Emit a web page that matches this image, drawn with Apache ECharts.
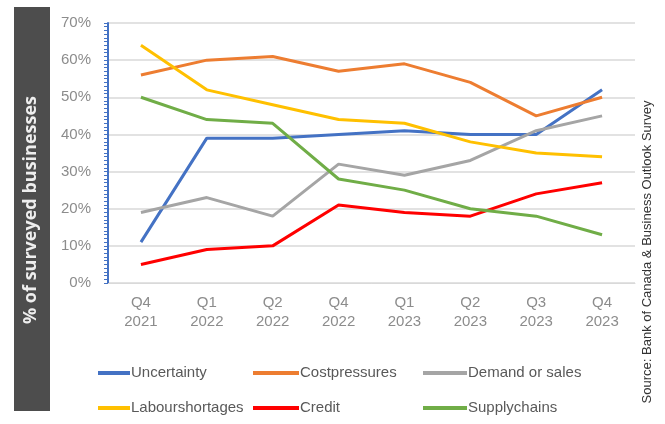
<!DOCTYPE html>
<html>
<head>
<meta charset="utf-8">
<script src="https://cdn.jsdelivr.net/npm/echarts@6/dist/echarts.min.js"></script>
<style>
  html, body { margin: 0; padding: 0; background: #fff; }
  #main { width: 665px; height: 424px; }
</style>
</head>
<body>
<div id="main"></div>
<script>
// 数据
var quarters = ['Q4\n2021', 'Q1\n2022', 'Q2\n2022', 'Q4\n2022', 'Q1\n2023', 'Q2\n2023', 'Q3\n2023', 'Q4\n2023'];
var uncertainty = [11, 39, 39, 40, 41, 40, 40, 52];
var costpressures = [56, 60, 61, 57, 59, 54, 45, 50];
var demandSales = [19, 23, 18, 32, 29, 33, 41, 45];
var labourshortages = [64, 52, 48, 44, 43, 38, 35, 34];
var credit = [5, 9, 10, 21, 19, 18, 24, 27];
var supplychains = [50, 44, 43, 28, 25, 20, 18, 13];
var yTicks = [0, 10, 20, 30, 40, 50, 60, 70];

var myChart = echarts.init(document.getElementById('main'));

function line(name, data, color) {
    return {
        name: name,
        type: 'line',
        data: data,
        symbol: 'none',
        lineStyle: { width: 3, color: color },
        itemStyle: { color: color }
    };
}

function legendCol(left, names, w) {
    return {
        orient: 'vertical',
        left: left,
        top: 364,
        padding: 0,
        itemGap: 17,
        icon: 'rect',
        itemWidth: w,
        itemHeight: 4,
        data: names,
        textStyle: { fontSize: 15, color: '#595959', lineHeight: 18, padding: [0, 0, 0, -4] }
    };
}

var option = {
    animation: false,
    grid: { left: 108, right: 30, top: 23, bottom: 141 },
    legend: [
        legendCol(98, ['Uncertainty', 'Labourshortages'], 32),
        legendCol(253, ['Costpressures', 'Credit'], 46),
        legendCol(423, ['Demand or sales', 'Supplychains'], 44)
    ],
    xAxis: {
        type: 'category',
        data: quarters,
        axisLine: { lineStyle: { color: '#d9d9d9', width: 1 } },
        axisTick: { show: false },
        axisLabel: { fontSize: 15, color: '#8c8c8c', lineHeight: 19, margin: 10 }
    },
    yAxis: {
        type: 'value',
        min: yTicks[0],
        max: yTicks[yTicks.length - 1],
        interval: 10,
        axisLine: { show: true, lineStyle: { color: '#4472c4', width: 2 } },
        axisTick: { show: true, length: 4, lineStyle: { color: '#4472c4' } },
        minorTick: { show: true, splitNumber: 10, length: 4, lineStyle: { color: '#4472c4' } },
        splitLine: { lineStyle: { color: '#d9d9d9', width: 1.5 } },
        axisLabel: { fontSize: 15, color: '#8c8c8c', margin: 17, formatter: '{value}%' }
    },
    graphic: [
        {
            type: 'rect',
            shape: { x: 14, y: 7, width: 36, height: 404 },
            style: { fill: '#4d4d4d' }
        },
        {
            type: 'text',
            x: 31,
            y: 210,
            rotation: Math.PI / 2,
            style: {
                text: '% of surveyed businesses',
                fill: '#eeeeee',
                font: 'bold 18px "Open Sans", sans-serif',
                align: 'center',
                verticalAlign: 'middle'
            }
        },
        {
            type: 'text',
            x: 647,
            y: 252,
            rotation: Math.PI / 2,
            style: {
                text: 'Source: Bank of Canada & Business Outlook Survey',
                fill: '#333333',
                font: '13px "Liberation Sans", sans-serif',
                align: 'center',
                verticalAlign: 'middle'
            }
        }
    ],
    series: [
        line('Uncertainty', uncertainty, '#4472c4'),
        line('Costpressures', costpressures, '#ed7d31'),
        line('Demand or sales', demandSales, '#a5a5a5'),
        line('Labourshortages', labourshortages, '#ffc000'),
        line('Credit', credit, '#ff0000'),
        line('Supplychains', supplychains, '#70ad47')
    ]
};

myChart.setOption(option);
</script>
</body>
</html>
